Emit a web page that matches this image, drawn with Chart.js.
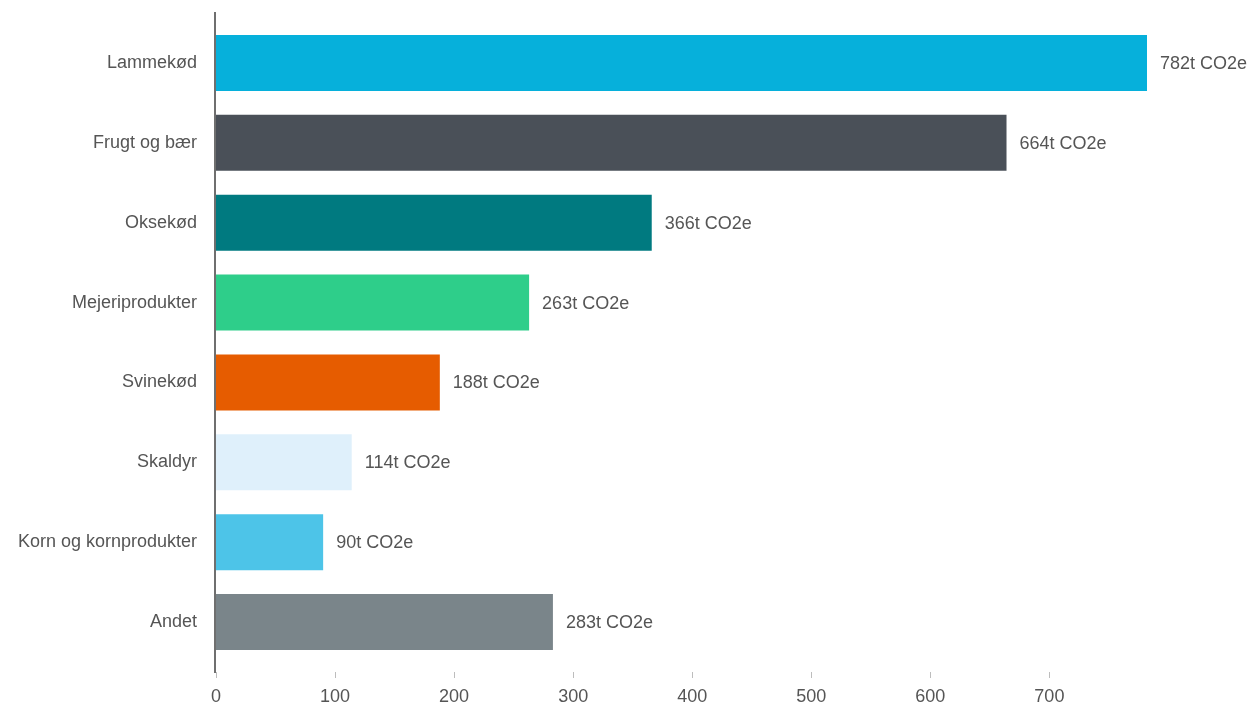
<!DOCTYPE html>
<html>
<head>
<meta charset="utf-8">
<script src="https://cdn.jsdelivr.net/npm/chart.js@4/dist/chart.umd.min.js"></script>
<style>
  html, body { margin: 0; padding: 0; background: #fff; }
  #wrap { width: 1258px; height: 704px; position: relative; }
</style>
</head>
<body>
<div id="wrap"><canvas id="c"></canvas></div>
<script>
// data
var categories = ['Lammekød', 'Frugt og bær', 'Oksekød', 'Mejeriprodukter', 'Svinekød', 'Skaldyr', 'Korn og kornprodukter', 'Andet'];
var values = [782, 664, 366, 263, 188, 114, 90, 283];
var barColors = ['#06B0DB', '#4A5058', '#007A80', '#2ECE8A', '#E65C00', '#DFF0FB', '#4DC4E8', '#7A858A'];
var unit = 't CO2e';

var FONT = '"Liberation Sans", Arial, Helvetica, sans-serif';
var TEXT = '#555555';

// value labels to the right of each bar
var valueLabels = {
    id: 'valueLabels',
    afterDatasetsDraw: function (chart) {
        var ctx = chart.ctx;
        var meta = chart.getDatasetMeta(0);
        ctx.save();
        ctx.font = '18px ' + FONT;
        ctx.fillStyle = TEXT;
        ctx.textAlign = 'left';
        ctx.textBaseline = 'middle';
        meta.data.forEach(function (bar, i) {
            ctx.fillText(values[i] + unit, bar.x + 13, bar.y + 1);
        });
        ctx.restore();
    }
};

// y axis line (a bit longer than the bars area) and small x tick marks
var axisDecor = {
    id: 'axisDecor',
    afterDraw: function (chart) {
        var ctx = chart.ctx;
        var a = chart.chartArea;
        var x = chart.scales.x;
        ctx.save();
        ctx.strokeStyle = '#6f6f6f';
        ctx.lineWidth = 2;
        ctx.beginPath();
        ctx.moveTo(a.left - 1, a.top - 11);
        ctx.lineTo(a.left - 1, a.bottom + 11);
        ctx.stroke();
        ctx.strokeStyle = '#bdbdbd';
        ctx.lineWidth = 1;
        x.ticks.forEach(function (t) {
            var px = Math.round(x.getPixelForValue(t.value)) + 0.5;
            ctx.beginPath();
            ctx.moveTo(px, a.bottom + 10);
            ctx.lineTo(px, a.bottom + 16);
            ctx.stroke();
        });
        ctx.restore();
    }
};

new Chart(document.getElementById('c'), {
    type: 'bar',
    data: {
        labels: categories,
        datasets: [{
            data: values,
            backgroundColor: barColors,
            borderWidth: 0,
            barPercentage: 0.7,
            categoryPercentage: 1
        }]
    },
    options: {
        indexAxis: 'y',
        responsive: true,
        maintainAspectRatio: false,
        animation: false,
        layout: { padding: { top: 23, right: 111, bottom: 0, left: 0 } },
        plugins: {
            legend: { display: false },
            tooltip: { enabled: false }
        },
        scales: {
            x: {
                min: 0,
                max: Math.max.apply(null, values),
                grid: { display: false },
                border: { display: false },
                ticks: {
                    stepSize: 100,
                    includeBounds: false,
                    padding: 16,
                    color: TEXT,
                    font: { family: FONT, size: 18 }
                },
                afterFit: function (s) { s.height = 42; }
            },
            y: {
                grid: { display: false, drawTicks: false },
                border: { display: false },
                ticks: {
                    padding: 19,
                    color: TEXT,
                    font: { family: FONT, size: 18 }
                },
                afterFit: function (s) {
                    s.width = 216;
                    s.paddingTop = 0;
                    s.paddingBottom = 0;
                }
            }
        }
    },
    plugins: [valueLabels, axisDecor]
});
</script>
</body>
</html>
